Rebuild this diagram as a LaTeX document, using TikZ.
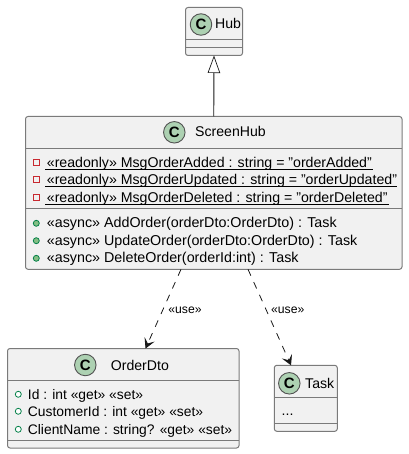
\documentclass[tikz,border=0pt]{standalone}
\usepackage{fontspec}
\setmainfont{Liberation Sans}
\usetikzlibrary{arrows.meta}
\definecolor{boxfill}{HTML}{F1F1F1}
\definecolor{boxline}{HTML}{7A7A7A}
\definecolor{lineblack}{HTML}{181818}
\definecolor{spotfill}{HTML}{ADD1B2}
\definecolor{pubfill}{HTML}{84BE84}
\definecolor{publine}{HTML}{038048}
\definecolor{privline}{HTML}{C82930}
\tikzset{
  classbox/.style={draw=boxline, line width=1pt, fill=boxfill, rounded corners=2.5pt, inner sep=0, outer sep=0},
  sepline/.style={draw=boxline, line width=1pt},
  spot/.style={circle, draw=lineblack!75, line width=0.9pt, fill=spotfill, minimum size=21.5pt, inner sep=0, font=\fontsize{15}{15}\selectfont\bfseries},
  title/.style={anchor=base west, inner sep=0, font=\fontsize{14.1}{16}\selectfont},
  row/.style={anchor=base west, inner sep=0, font=\fontsize{14.15}{16}\selectfont},
  methodrow/.style={row, font=\fontsize{14.3}{16}\selectfont},
  dtorow/.style={row, font=\fontsize{13.85}{16}\selectfont},
  uselabel/.style={inner sep=0, font=\fontsize{12.2}{14}\selectfont},
  privmark/.style={rectangle, draw=privline, line width=0.9pt, minimum size=6pt, inner sep=0},
  pubmark/.style={circle, draw=publine, line width=0.8pt, fill=pubfill, minimum size=6pt, inner sep=0},
  fieldmark/.style={circle, draw=publine, line width=0.8pt, fill=white, minimum size=6pt, inner sep=0},
  inherit/.style={draw=lineblack, line width=0.9pt, -{Triangle[open, length=17.5pt, width=12.5pt, line width=0.7pt]}},
  depends/.style={draw=lineblack, line width=0.8pt, dash pattern=on 7pt off 7pt, -{Stealth[length=10pt, width=11pt, inset=4.5pt]}},
}
\begin{document}
\begin{tikzpicture}[x=1pt, y=-1pt]
  \useasboundingbox (0, 0) rectangle (408, 454);
  % class boxes
  \node (Hub) at (214, 31.5) [classbox, minimum width=57, minimum height=48] {};
  \node (ScreenHub) at (213.75, 192.9) [classbox, minimum width=376.5, minimum height=152.8] {};
  \node (OrderDto) at (123.25, 398.25) [classbox, minimum width=231.5, minimum height=99.5] {};
  \node (Task) at (305.8, 398.3) [classbox, minimum width=63, minimum height=66] {};
  % compartments
  \draw [sepline] (185.5, 39.5) -- (242.5, 39.5);
  \draw [sepline] (185.5, 47.5) -- (242.5, 47.5);
  \draw [sepline] (25.5, 148.5) -- (402, 148.5);
  \draw [sepline] (25.5, 208.7) -- (402, 208.7);
  \draw [sepline] (7.5, 380.7) -- (239, 380.7);
  \draw [sepline] (7.5, 440) -- (239, 440);
  \draw [sepline] (274.3, 397.3) -- (337.3, 397.3);
  \draw [sepline] (274.3, 423.3) -- (337.3, 423.3);
  % headers
  \node (HubSpot) at (201, 24.5) [spot] {C};
  \node (ScreenHubSpot) at (174.3, 132.3) [spot] {C};
  \node (OrderDtoSpot) at (85.3, 365) [spot] {C};
  \node (TaskSpot) at (289.3, 383.3) [spot] {C};
  \node (HubName) at (215, 29) [title] {Hub};
  \node (ScreenHubName) at (195, 137) [title] {ScreenHub};
  \node (OrderDtoName) at (110.7, 370) [title] {OrderDto};
  \node (TaskName) at (305, 388) [title] {Task};
  % ScreenHub fields
  \node (markA) at (36.3, 162.5) [privmark] {};
  \node (markB) at (36.3, 179.5) [privmark] {};
  \node (markC) at (36.3, 197.3) [privmark] {};
  \node (rowA) at (46.7, 167.5) [row] {«readonly» MsgOrderAdded : string = "orderAdded"};
  \node (rowB) at (46.7, 184.5) [row] {«readonly» MsgOrderUpdated : string = "orderUpdated"};
  \node (rowC) at (46.7, 202.3) [row] {«readonly» MsgOrderDeleted : string = "orderDeleted"};
  \draw [line width=0.9pt] (45, 169.5) -- (373, 169.5);
  \draw [line width=0.9pt] (45, 186.5) -- (396.7, 186.5);
  \draw [line width=0.9pt] (45, 204.5) -- (389, 204.5);
  % ScreenHub methods
  \node (markD) at (36.3, 223.3) [pubmark] {};
  \node (markE) at (36.3, 240.7) [pubmark] {};
  \node (markF) at (36.3, 258.3) [pubmark] {};
  \node (rowD) at (46.7, 227.8) [methodrow] {«async» AddOrder(orderDto:OrderDto) : Task};
  \node (rowE) at (46.7, 245) [methodrow] {«async» UpdateOrder(orderDto:OrderDto) : Task};
  \node (rowF) at (46.7, 262.8) [methodrow] {«async» DeleteOrder(orderId:int) : Task};
  % OrderDto fields
  \node (markG) at (18.3, 394.3) [fieldmark] {};
  \node (markH) at (18.3, 411.3) [fieldmark] {};
  \node (markI) at (18.3, 429.3) [fieldmark] {};
  \node (rowG) at (27.7, 399.5) [dtorow] {Id : int «get» «set»};
  \node (rowH) at (27.7, 416.5) [dtorow] {CustomerId : int «get» «set»};
  \node (rowI) at (27.7, 434.5) [dtorow] {ClientName : string? «get» «set»};
  % Task
  \node (rowJ) at (281.5, 415) [row] {...};
  % connectors
  \coordinate (useA) at (181, 269.3);
  \coordinate (useB) at (248, 269.3);
  \draw [inherit] (ScreenHub.north) -- (Hub.south);
  \draw [depends] (useA) -- (OrderDto);
  \draw [depends] (useB) -- (Task);
  \node (labelA) at (185, 310) [uselabel] {«use»};
  \node (labelB) at (287.7, 310) [uselabel] {«use»};
\end{tikzpicture}
\end{document}
